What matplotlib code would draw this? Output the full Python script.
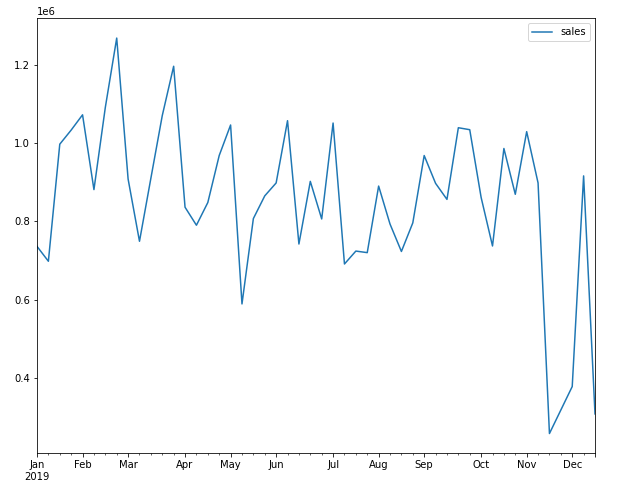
import matplotlib
matplotlib.use("Agg")
import matplotlib.pyplot as plt
import pandas as pd

start_week = "2019-01-06"
sales = [
    0.736, 0.698, 0.997, 1.033, 1.072, 0.881, 1.091, 1.268, 0.908, 0.749,
    0.910, 1.070, 1.196, 0.836, 0.790, 0.848, 0.968, 1.046, 0.589, 0.807,
    0.865, 0.898, 1.057, 0.742, 0.902, 0.806, 1.051, 0.691, 0.724, 0.720,
    0.890, 0.793, 0.723, 0.796, 0.968, 0.897, 0.856, 1.039, 1.034, 0.861,
    0.737, 0.986, 0.869, 1.029, 0.898, 0.258, 0.318, 0.378, 0.916, 0.308,
]
sales = [v * 1e6 for v in sales]

idx = pd.date_range(start_week, periods=len(sales), freq="W")
df = pd.DataFrame({"sales": sales}, index=idx)

W, H = 617, 484
dpi = 72
fig = plt.figure(figsize=(W / dpi, H / dpi), dpi=dpi)
ax = fig.add_axes([37 / W, (H - 453.3) / H, (595 - 37) / W, (453.3 - 18.3) / H])
df.plot(ax=ax)

fig.savefig("out.png", dpi=dpi)
